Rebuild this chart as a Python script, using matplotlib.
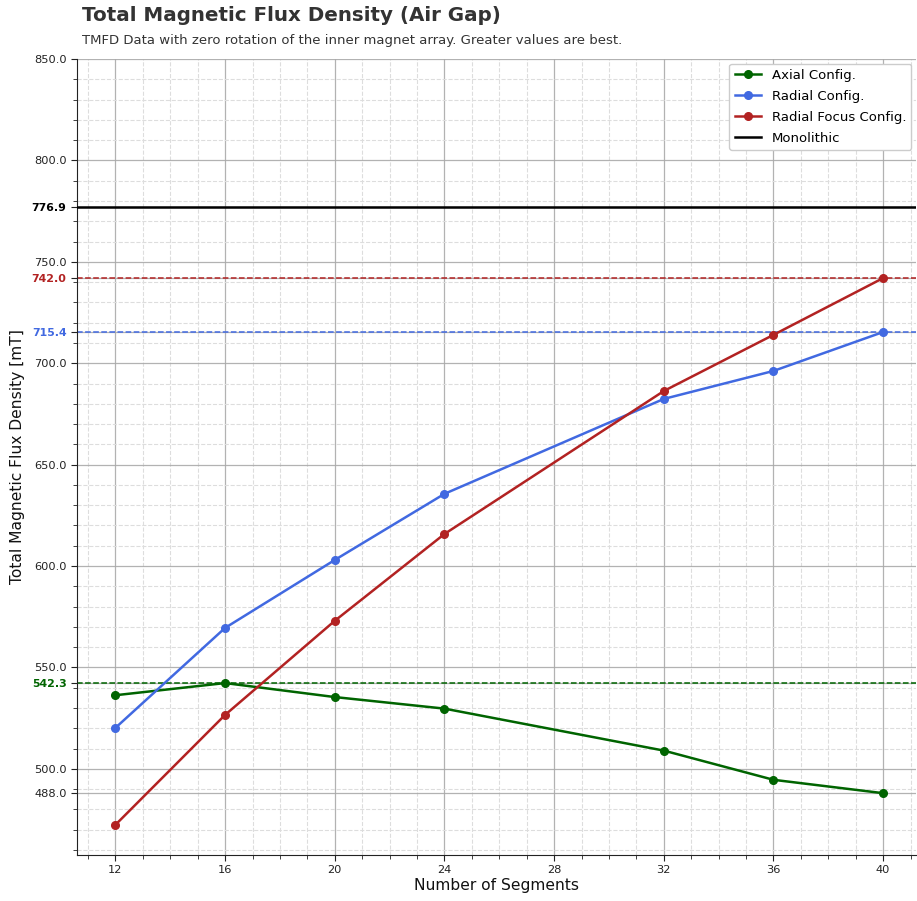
import numpy as np
import matplotlib.pyplot as plt
from matplotlib.ticker import MultipleLocator

# data
segments = [12, 16, 20, 24, 32, 36, 40]
axial = [536.3, 542.3, 535.4, 529.7, 509.0, 494.6, 488.0]
radial = [520.2, 569.5, 603.0, 635.6, 682.4, 696.2, 715.4]
radial_focus = [472.4, 526.6, 573.0, 615.8, 686.3, 714.0, 742.0]
monolithic = 776.9

x_ticks = [12, 16, 20, 24, 28, 32, 36, 40]
y_major = [500.0, 550.0, 600.0, 650.0, 700.0, 750.0, 800.0, 850.0]
y_extra = [488.0, 542.3, 715.4, 742.0, 776.9]

c_axial = "#006400"
c_radial = "#4169E1"
c_focus = "#B22222"

fig = plt.figure(figsize=(9.17, 9.01), dpi=100)
ax = fig.add_axes([0.084, 0.051, 0.915, 0.8835])

ax.plot(segments, axial, marker="o", markersize=5.5, linewidth=1.8, color=c_axial, label="Axial Config.", zorder=3)
ax.plot(segments, radial, marker="o", markersize=5.5, linewidth=1.8, color=c_radial, label="Radial Config.", zorder=3)
ax.plot(segments, radial_focus, marker="o", markersize=5.5, linewidth=1.8, color=c_focus, label="Radial Focus Config.", zorder=3)
ax.axhline(monolithic, color="black", linewidth=1.8, label="Monolithic", zorder=3)

ax.axhline(max(axial), color=c_axial, linestyle="--", linewidth=1.1, zorder=2)
ax.axhline(max(radial), color=c_radial, linestyle="--", linewidth=1.1, zorder=2)
ax.axhline(max(radial_focus), color=c_focus, linestyle="--", linewidth=1.1, zorder=2)

ax.set_xlim(10.6, 41.2)
ax.set_ylim(457.5, 850)

ax.set_xticks(x_ticks)
ax.xaxis.set_minor_locator(MultipleLocator(1))
yt = sorted(y_major + y_extra)
ax.set_yticks(yt)
ax.set_yticklabels(["%.1f" % v for v in yt])
ax.yaxis.set_minor_locator(MultipleLocator(10))
ax.tick_params(axis="both", which="major", labelsize=8.2, length=4, color="#222222")
ax.tick_params(axis="both", which="minor", length=3, color="#222222")

label_colors = {776.9: "black", 742.0: c_focus, 715.4: c_radial, 542.3: c_axial}
for lbl in ax.get_yticklabels():
    v = round(float(lbl.get_text()), 1)
    if v in label_colors:
        lbl.set_color(label_colors[v])
        lbl.set_fontweight("bold")
        lbl.set_fontsize(7.9)
    else:
        lbl.set_color("#222222")
for lbl in ax.get_xticklabels():
    lbl.set_color("#222222")

ax.grid(True, which="major", color="#aaaaaa", linewidth=0.9, alpha=0.9)
ax.grid(True, which="minor", color="#dddddd", linestyle="--", linewidth=0.8)
ax.set_axisbelow(True)

for s in ["top", "right"]:
    ax.spines[s].set_visible(False)
ax.spines["left"].set_color("#222222")
ax.spines["bottom"].set_color("#222222")

ax.set_xlabel("Number of Segments", fontsize=11.2, color="#111111", labelpad=2)
ax.set_ylabel("Total Magnetic Flux Density [mT]", fontsize=11.2, color="#111111", labelpad=5)

fig.text(0.089, 0.993, "Total Magnetic Flux Density (Air Gap)", fontsize=14.3, fontweight="bold",
         color="#333333", ha="left", va="top")
fig.text(0.089, 0.962, "TMFD Data with zero rotation of the inner magnet array. Greater values are best.",
         fontsize=9.5, color="#333333", ha="left", va="top")

ax.legend(loc="upper right", fontsize=9.5, framealpha=1.0, borderaxespad=0.35, labelspacing=0.6)

fig.savefig("out.png", dpi=100)
